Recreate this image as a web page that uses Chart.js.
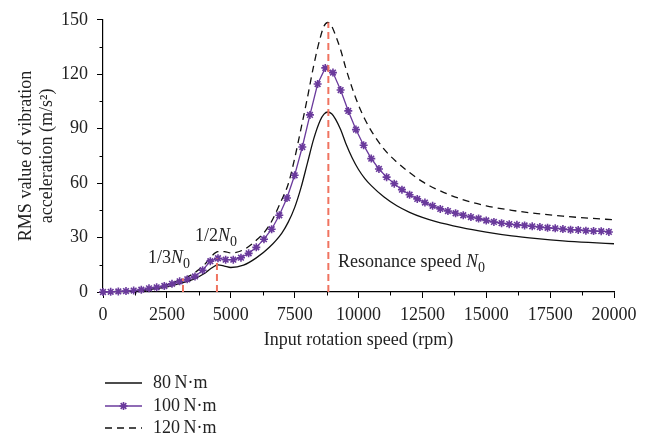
<!DOCTYPE html>
<html>
<head>
<meta charset="utf-8">
<script src="https://cdn.jsdelivr.net/npm/chart.js@4.4.1/dist/chart.umd.min.js"></script>
<style>
  html, body { margin: 0; padding: 0; background: #fff; }
  #wrap { width: 653px; height: 441px; position: relative; }
</style>
</head>
<body>
<div id="wrap"><canvas id="chart" width="653" height="441"></canvas></div>
<script>
// Series names (load torque)
const torqueLabels = ['80\u2009N·m', '100\u2009N·m', '120\u2009N·m'];

// 100 N·m series: sampled speeds (rpm) and RMS acceleration (m/s²)
const markedSpeed = [0, 300, 600, 900, 1200, 1500, 1800, 2100, 2400, 2700,
  3000, 3300, 3600, 3900, 4200, 4500, 4800, 5100, 5400, 5700,
  6000, 6300, 6600, 6900, 7200, 7500, 7800, 8100, 8400, 8700,
  9000, 9300, 9600, 9900, 10200, 10500, 10800, 11100, 11400, 11700,
  12000, 12300, 12600, 12900, 13200, 13500, 13800, 14100, 14400, 14700,
  15000, 15300, 15600, 15900, 16200, 16500, 16800, 17100, 17400, 17700,
  18000, 18300, 18600, 18900, 19200, 19500, 19800];
const torque100 = [0, 0.1, 0.3, 0.5, 0.8, 1.3, 2.0, 2.6, 3.3, 4.5,
  5.9, 7.0, 8.6, 12.0, 17.0, 18.6, 17.8, 17.8, 18.9, 21.3,
  24.6, 29.1, 34.6, 42.3, 51.8, 64.3, 79.9, 97.6, 114.6, 123.5,
  120.9, 111.3, 99.8, 89.5, 80.9, 73.5, 67.8, 63.3, 59.7, 56.4,
  53.6, 51.3, 49.3, 47.5, 45.8, 44.6, 43.4, 42.3, 41.3, 40.5,
  39.4, 38.6, 37.9, 37.4, 37.0, 36.7, 36.2, 35.8, 35.4, 35.1,
  34.7, 34.3, 34.2, 33.8, 33.6, 33.5, 33.1];

// 80 N·m and 120 N·m curves share one speed grid
const curveSpeed = [0, 500, 1000, 1500, 2000, 2500, 3000, 3500, 4000,
  4250, 4500, 4750, 5000, 5500, 6000, 6500, 7000,
  7250, 7500, 7750, 8000, 8250, 8500, 8650, 8800,
  8950, 9100, 9300, 9500, 9750, 10000, 10250, 10500, 11000,
  11500, 12000, 12500, 13000, 14000, 15000, 16000, 17000,
  18000, 19000, 20000];
const torque80 = [0, 0.2, 0.4, 0.8, 1.7, 2.8, 4.6, 6.8, 10.5,
  13.2, 14.9, 14.3, 13.5, 14.8, 18.8, 24.5, 32.5,
  38.5, 46.5, 57.5, 71, 84.5, 94.5, 98, 99.2,
  98.2, 95.3, 89.5, 82, 74, 67.5, 62.5, 58.6, 52.3,
  47.5, 43.9, 41.1, 38.9, 35.6, 33, 30.9, 29.4,
  28.2, 27.3, 26.6];
const torque120 = [0, 0.3, 0.5, 1.1, 2.4, 3.9, 6.6, 9.8, 15.5,
  19.8, 22.2, 22.3, 21.5, 23.3, 28.5, 36.5, 51,
  59.5, 73.5, 90, 107, 125, 140, 146.5, 148.5,
  146.5, 141.5, 133.5, 123.5, 112.5, 103, 95.2, 88.8, 78.7,
  71.6, 65.8, 60.8, 57, 51.3, 47.5, 45, 43.2,
  41.8, 40.7, 39.8];

// Order speeds: 1/3 N0, 1/2 N0, N0 (rpm) and the height of each guide line
const orderSpeeds = [3130, 4460, 8820];
const orderHeights = [7.5, 18.5, 148.5];

// Axis ticks
const xTicks = [0, 2500, 5000, 7500, 10000, 12500, 15000, 17500, 20000];
const xMinorTicks = [1250, 3750, 6250, 8750, 11250, 13750, 16250, 18750];
const yTicks = [0, 30, 60, 90, 120, 150];
const yMinorTicks = [15, 45, 75, 105, 135];

const FONT = '"Liberation Serif", "Times New Roman", serif';
const INK = '#222';
const PURPLE = '#6a3a9c';
const GUIDE = '#f07360';

const pairs = (xs, ys) => xs.map((x, i) => ({ x, y: ys[i] }));

const guideSets = orderSpeeds.map((s, i) => ({
  label: '',
  data: [{ x: s, y: 0 }, { x: s, y: orderHeights[i] }],
  borderColor: GUIDE,
  borderWidth: 2,
  borderDash: [7, 4],
  pointRadius: 0,
  order: 0
}));

const seriesSets = [
  {
    label: torqueLabels[0],
    data: pairs(curveSpeed, torque80),
    borderColor: '#111',
    borderWidth: 1.3,
    pointRadius: 0,
    cubicInterpolationMode: 'monotone',
    order: 2
  },
  {
    label: torqueLabels[1],
    data: pairs(markedSpeed, torque100),
    borderColor: PURPLE,
    borderWidth: 1.3,
    tension: 0,
    pointStyle: 'star',
    pointRadius: 4,
    pointBorderWidth: 1.6,
    pointBorderColor: PURPLE,
    pointBackgroundColor: PURPLE,
    clip: 8,
    order: 1
  },
  {
    label: torqueLabels[2],
    data: pairs(curveSpeed, torque120),
    borderColor: '#111',
    borderWidth: 1.3,
    borderDash: [7, 5],
    pointRadius: 0,
    cubicInterpolationMode: 'monotone',
    order: 3
  }
];

// Text labels placed in data coordinates
const notes = [
  { speed: 1760, level: 15.8, parts: [['1/3', 'n'], ['N', 'i'], ['0', 's']] },
  { speed: 3600, level: 28.2, parts: [['1/2', 'n'], ['N', 'i'], ['0', 's']] },
  { speed: 9200, level: 13.6, parts: [['Resonance speed ', 'n'], ['N', 'i'], ['0', 's']] }
];

function drawRich(ctx, x, y, parts) {
  ctx.textBaseline = 'alphabetic';
  ctx.textAlign = 'left';
  ctx.fillStyle = INK;
  for (const [t, kind] of parts) {
    if (kind === 's') {
      ctx.font = '14px ' + FONT;
      ctx.fillText(t, x, y + 5);
    } else {
      ctx.font = (kind === 'i' ? 'italic ' : '') + '18px ' + FONT;
      ctx.fillText(t, x, y);
    }
    x += ctx.measureText(t).width;
  }
}

const extras = {
  id: 'extras',
  afterDraw(chart) {
    const { ctx, chartArea } = chart;
    const xs = chart.scales.x, ys = chart.scales.y;
    ctx.save();
    // minor ticks
    ctx.strokeStyle = '#000';
    ctx.lineWidth = 1;
    ctx.beginPath();
    for (const v of xMinorTicks) {
      const px = Math.round(xs.getPixelForValue(v)) + 0.5;
      ctx.moveTo(px, chartArea.bottom);
      ctx.lineTo(px, chartArea.bottom + 3.5);
    }
    for (const v of yMinorTicks) {
      const py = Math.round(ys.getPixelForValue(v)) + 0.5;
      ctx.moveTo(chartArea.left, py);
      ctx.lineTo(chartArea.left - 3.5, py);
    }
    ctx.stroke();

    // text notes
    for (const n of notes) {
      drawRich(ctx, xs.getPixelForValue(n.speed), ys.getPixelForValue(n.level), n.parts);
    }

    // legend
    const rowY = [383, 406, 428];
    seriesSets.forEach((ds, i) => {
      const y = rowY[i];
      ctx.save();
      ctx.strokeStyle = ds.borderColor;
      ctx.lineWidth = ds.borderWidth;
      ctx.setLineDash(ds.borderDash || []);
      ctx.beginPath();
      ctx.moveTo(105, y);
      ctx.lineTo(142, y);
      ctx.stroke();
      ctx.setLineDash([]);
      if (ds.pointStyle) {
        ctx.fillStyle = ds.pointBackgroundColor;
        ctx.strokeStyle = ds.pointBorderColor;
        ctx.lineWidth = ds.pointBorderWidth;
        Chart.helpers.drawPoint(ctx, { pointStyle: ds.pointStyle, radius: ds.pointRadius, borderWidth: ds.pointBorderWidth, rotation: 0 }, 123.5, y);
      }
      ctx.restore();
      ctx.fillStyle = INK;
      ctx.font = '18px ' + FONT;
      ctx.textBaseline = 'middle';
      ctx.textAlign = 'left';
      ctx.fillText(ds.label, 153, y);
    });
    ctx.restore();
  }
};

const axisCommon = {
  type: 'linear',
  grid: { drawOnChartArea: false, drawTicks: true, tickLength: 6, color: '#000', lineWidth: 1 },
  border: { display: true, color: '#000', width: 1.2 }
};

new Chart(document.getElementById('chart'), {
  type: 'line',
  data: { datasets: [...guideSets, ...seriesSets] },
  options: {
    responsive: false,
    animation: false,
    devicePixelRatio: 1,
    layout: { padding: { left: 0, right: 39, top: 14, bottom: 89 } },
    plugins: { legend: { display: false }, tooltip: { enabled: false } },
    scales: {
      x: {
        ...axisCommon,
        min: 0, max: 20000,
        afterBuildTicks: s => { s.ticks = xTicks.map(v => ({ value: v })); },
        afterFit: s => { s.height = 60; },
        ticks: { callback: v => String(v), font: { family: FONT, size: 18 }, color: INK, padding: 6, maxRotation: 0, autoSkip: false },
        title: { display: true, text: 'Input rotation speed (rpm)', font: { family: FONT, size: 18 }, color: INK, padding: { top: 0, bottom: 1 } }
      },
      y: {
        ...axisCommon,
        min: 0, max: 150,
        afterBuildTicks: s => { s.ticks = yTicks.map(v => ({ value: v })); },
        afterFit: s => { s.width = 103; },
        ticks: { callback: v => String(v), font: { family: FONT, size: 18 }, color: INK, padding: 9, autoSkip: false },
        title: { display: true, text: ['RMS value of vibration', 'acceleration (m/s\u00B2)'], font: { family: FONT, size: 18, lineHeight: 1.17 }, color: INK, padding: { top: 16, bottom: 0 } }
      }
    }
  },
  plugins: [extras]
});
</script>
</body>
</html>
